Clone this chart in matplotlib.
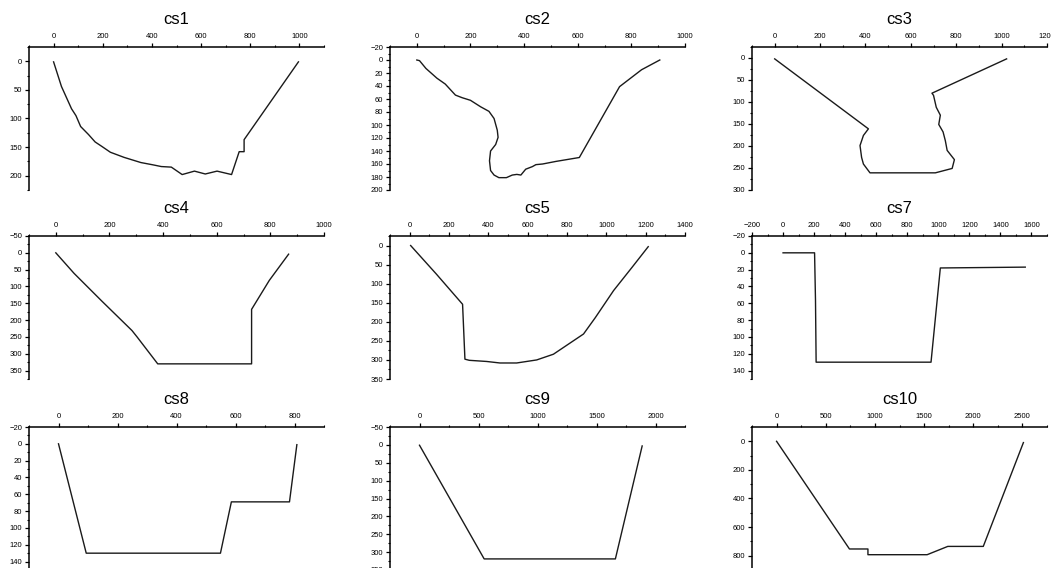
import matplotlib
matplotlib.use('Agg')
import matplotlib.pyplot as plt
from matplotlib.ticker import MultipleLocator

plt.rcParams['font.family'] = ['Liberation Sans', 'DejaVu Sans']

# distance (x) / depth (y) of each cross section
cs1_x = [0, 32, 73, 91, 110, 142, 169, 197, 231, 287, 355, 404, 438, 479, 523, 573, 617, 665, 724, 755, 775, 775, 996]
cs1_y = [1, 44, 83, 95, 114, 128, 141, 149, 159, 168, 177, 181, 184, 185, 198, 192, 197, 192, 198, 158, 158, 137, 1]

cs2_x = [0, 10, 34, 75, 106, 144, 169, 200, 238, 269, 288, 300, 303, 294, 275, 271, 275, 288, 306, 334, 356, 373, 388,
         406, 431, 444, 469, 519, 606, 756, 838, 906]
cs2_y = [0, 1, 13, 28, 37, 54, 58, 62, 72, 79, 90, 108, 119, 130, 140, 155, 170, 177, 181, 181, 177, 176, 177,
         168, 164, 161, 160, 156, 150, 41, 15, 0]

cs3_x = [0, 413, 391, 376, 383, 391, 420, 708, 782, 792, 760, 752, 742, 723, 730, 712, 700, 693, 1022]
cs3_y = [2, 161, 176, 199, 226, 241, 261, 261, 251, 231, 210, 188, 168, 151, 130, 112, 85, 80, 2]

cs4_x = [0, 68, 171, 284, 303, 380, 730, 730, 796, 868]
cs4_y = [0, 61, 143, 231, 250, 330, 330, 168, 82, 4]

cs5_x = [5, 136, 269, 281, 303, 391, 459, 544, 646, 731, 884, 944, 1037, 1131, 1213]
cs5_y = [0, 75, 154, 298, 301, 304, 308, 308, 300, 285, 232, 189, 118, 57, 3]

cs7_x = [0, 203, 209, 213, 953, 1013, 1560]
cs7_y = [0, 0, 57, 130, 130, 18, 17]

cs8_x = [0, 94, 549, 586, 783, 808]
cs8_y = [0, 130, 130, 69, 69, 1]

cs9_x = [0, 548, 1660, 1887]
cs9_y = [1, 319, 319, 3]

cs10_x = [0, 741, 929, 929, 1531, 1741, 2102, 2510]
cs10_y = [0, 753, 753, 793, 793, 735, 735, 9]

names = ['cs1', 'cs2', 'cs3', 'cs4', 'cs5', 'cs7', 'cs8', 'cs9', 'cs10']
xs = [cs1_x, cs2_x, cs3_x, cs4_x, cs5_x, cs7_x, cs8_x, cs9_x, cs10_x]
ys = [cs1_y, cs2_y, cs3_y, cs4_y, cs5_y, cs7_y, cs8_y, cs9_y, cs10_y]

# axis ranges and tick steps: (xmin, xmax, xstep, ymin, ymax, ystep)
ranges = [
    (-100, 1100, 200, -25, 225, 50),
    (-100, 1000, 200, -20, 200, 20),
    (-100, 1200, 200, -25, 300, 50),
    (-100, 1000, 200, -50, 375, 50),
    (-100, 1400, 200, -25, 350, 50),
    (-200, 1700, 200, -20, 150, 20),
    (-100, 900, 200, -20, 150, 20),
    (-250, 2250, 500, -50, 350, 50),
    (-250, 2750, 500, -100, 900, 200),
]

W, H = 1051, 568
fig = plt.figure(figsize=(W / 100, H / 100), dpi=100)

lefts = [29, 390, 752]
tops = [47, 236, 427]
aw, ah = 295, 143

for index, name in enumerate(names):
    row, col = divmod(index, 3)
    ax = fig.add_axes([lefts[col] / W, (H - tops[row] - ah) / H, aw / W, ah / H])

    ax.plot(xs[index], ys[index], color='#1a1a1a', linewidth=1.0)

    x0, x1, xstep, y0, y1, ystep = ranges[index]
    ax.set_xlim(x0, x1)
    ax.set_ylim(y1, y0)

    ax.xaxis.set_major_locator(MultipleLocator(xstep))
    ax.xaxis.set_minor_locator(MultipleLocator(xstep / 2))
    ax.yaxis.set_major_locator(MultipleLocator(ystep))
    ax.yaxis.set_minor_locator(MultipleLocator(ystep / 2))

    ax.xaxis.tick_top()
    ax.spines['right'].set_visible(False)
    ax.spines['bottom'].set_visible(False)
    for s in ('top', 'left'):
        ax.spines[s].set_linewidth(1.1)

    ax.tick_params(which='major', direction='out', length=3, width=0.9, labelsize=5.5, pad=2)
    ax.tick_params(which='minor', direction='out', length=1.8, width=0.8)

    ax.text(0.5, 1.19, name, transform=ax.transAxes, ha='center', va='center', fontsize=12)

fig.savefig('out.png', dpi=100)
plt.close()
